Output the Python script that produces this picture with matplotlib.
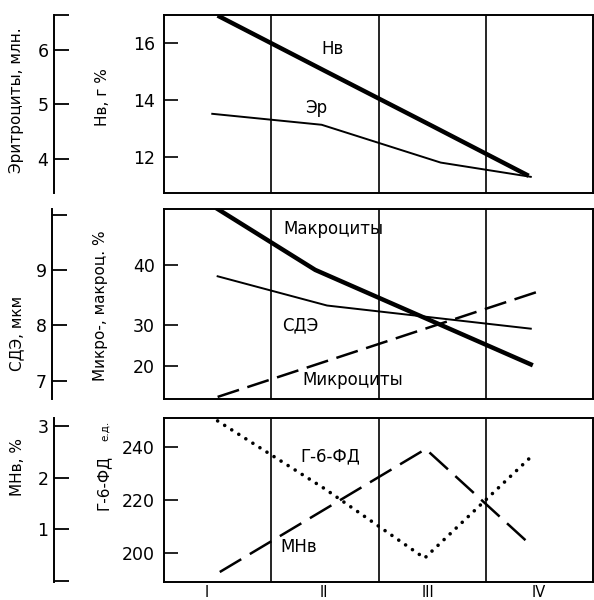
import numpy as np
import matplotlib
matplotlib.use("Agg")
import matplotlib.pyplot as plt

plt.rcParams["font.family"] = ["DejaVu Sans"]

# stages of the disease (columns)
stages = ["I", "II", "III", "IV"]
stage_bounds = [1, 2, 3]

# top panel
hb_x = [0.5, 1.5, 2.5, 3.4]
hb_vals = [16.95, 15.02, 13.1, 11.36]          # Нв, г %
er_x = [0.45, 1.47, 2.58, 3.42]
er_vals = [4.83, 4.63, 3.94, 3.68]              # эритроциты, млн.

# middle panel
macro_x = [0.5, 1.41, 3.42]
macro_vals = [49.3, 39.15, 20.5]                # макроциты, %
micro_x = [0.5, 3.5]
micro_vals = [12.7, 35.6]                       # микроциты, %
sde_x = [0.5, 1.52, 3.42]
sde_vals = [8.89, 8.36, 7.94]                   # СДЭ, мкм

# bottom panel
g6pd_x = [0.5, 1.5, 2.43, 3.42]
g6pd_vals = [249.8, 224.2, 198.1, 236.2]        # Г-6-ФД, е.д.
mhb_x = [0.52, 2.44, 3.42]
mhb_vals = [0.175, 2.554, 0.697]                # МНв, %

W, H = 594, 600
fig = plt.figure(figsize=(W / 100, H / 100), dpi=100)


def px(x, y):
    return x / W, 1 - y / H


def panel(top, bottom, outer_off):
    ax = fig.add_axes([164 / W, 1 - bottom / H, 429 / W, (bottom - top) / H])
    for s in ax.spines.values():
        s.set_linewidth(1.4)
    ax.set_xlim(0, 4)
    for b in stage_bounds:
        ax.axvline(b, color="black", lw=1.2)
    ax.tick_params(axis="y", direction="in", length=10, width=1.2,
                   pad=6.5, labelsize=12.5)
    ax.set_xticks([])
    ax2 = ax.twinx()
    for name, s in ax2.spines.items():
        s.set_visible(name == "left")
    ax2.spines["left"].set_position(("axes", outer_off))
    ax2.spines["left"].set_linewidth(1.4)
    ax2.yaxis.tick_left()
    ax2.tick_params(axis="y", direction="in", length=11, width=1.3,
                    pad=4, labelsize=12.5)
    return ax, ax2


# ---- top
ax, ax2 = panel(15, 193, -0.2564)
ax.set_ylim(10.76, 16.97)
ax.set_yticks([12, 14, 16])
ax2.set_ylim(3.385, 6.633)
ax2.set_yticks([4, 5, 6, 6.633], ["4", "5", "6", ""])
ax.plot(hb_x, hb_vals, color="black", lw=3.2, solid_capstyle="butt")
ax2.plot(er_x, er_vals, color="black", lw=1.4)

# ---- middle (uneven inner scale as in the original)
def fwd(v):
    v = np.asarray(v, dtype=float)
    return np.where(v < 30, (v - 30) * 4.1, (v - 30) * 5.9)


def inv(u):
    u = np.asarray(u, dtype=float)
    return np.where(u < 0, 30 + u / 4.1, 30 + u / 5.9)


ax, ax2 = panel(209, 399, -0.2604)
ax.set_yscale("function", functions=(fwd, inv))
ax.set_ylim(12.2, 49.3)
ax.set_yticks([20, 30, 40], ["20", "30", "40"])
ax.yaxis.set_minor_locator(matplotlib.ticker.NullLocator())
ax2.set_ylim(6.665, 10.11)
ax2.set_yticks([7, 8, 9, 10], ["7", "8", "9", ""])
ax.plot(macro_x, macro_vals, color="black", lw=3.2)
ax.plot(micro_x, micro_vals, color="black", lw=1.8,
        linestyle=(0, (9, 3.5)), dash_capstyle="butt")
ax2.plot(sde_x, sde_vals, color="black", lw=1.4)

# ---- bottom
ax, ax2 = panel(418, 582, -0.2564)
ax.set_ylim(189.1, 250.9)
ax.set_yticks([200, 220, 240])
ax2.set_ylim(-0.018, 3.154)
ax2.set_yticks([0, 1, 2, 3], ["", "1", "2", "3"])
ax.plot(g6pd_x, g6pd_vals, color="black", lw=2.6,
        linestyle=(0, (0.01, 2.3)), dash_capstyle="round")
ax2.plot(mhb_x, mhb_vals, color="black", lw=1.8,
         linestyle=(0, (10, 4)), dash_capstyle="butt")
ax.set_xticks([0.4, 1.49, 2.46, 3.49], stages)
ax.tick_params(axis="x", length=0, pad=2.5, labelsize=10.5)

# curve labels
for txt, x, y in [("Нв", 333, 49), ("Эр", 316, 108),
                  ("Макроциты", 333, 229), ("СДЭ", 300, 325),
                  ("Микроциты", 353, 380), ("Г-6-ФД", 330, 456),
                  ("МНв", 299, 547)]:
    fig.text(*px(x, y), txt, ha="center", va="center", fontsize=12)

# axis titles
for txt, x, y in [("Эритроциты, млн.", 17, 100), ("Нв, г %", 103, 97),
                  ("СДЭ, мкм", 17, 333), ("Микро-, макроц. %", 100, 306),
                  ("МНв, %", 17, 467)]:
    fig.text(*px(x, y), txt, ha="center", va="center", rotation=90,
             fontsize=11)
fig.text(*px(103, 483), "Г-6-ФД", ha="center", va="center", rotation=90,
         fontsize=11)
fig.text(*px(105, 431), "е.д.", ha="center", va="center", rotation=90,
         fontsize=7.5)

fig.savefig("out.png", dpi=100)
